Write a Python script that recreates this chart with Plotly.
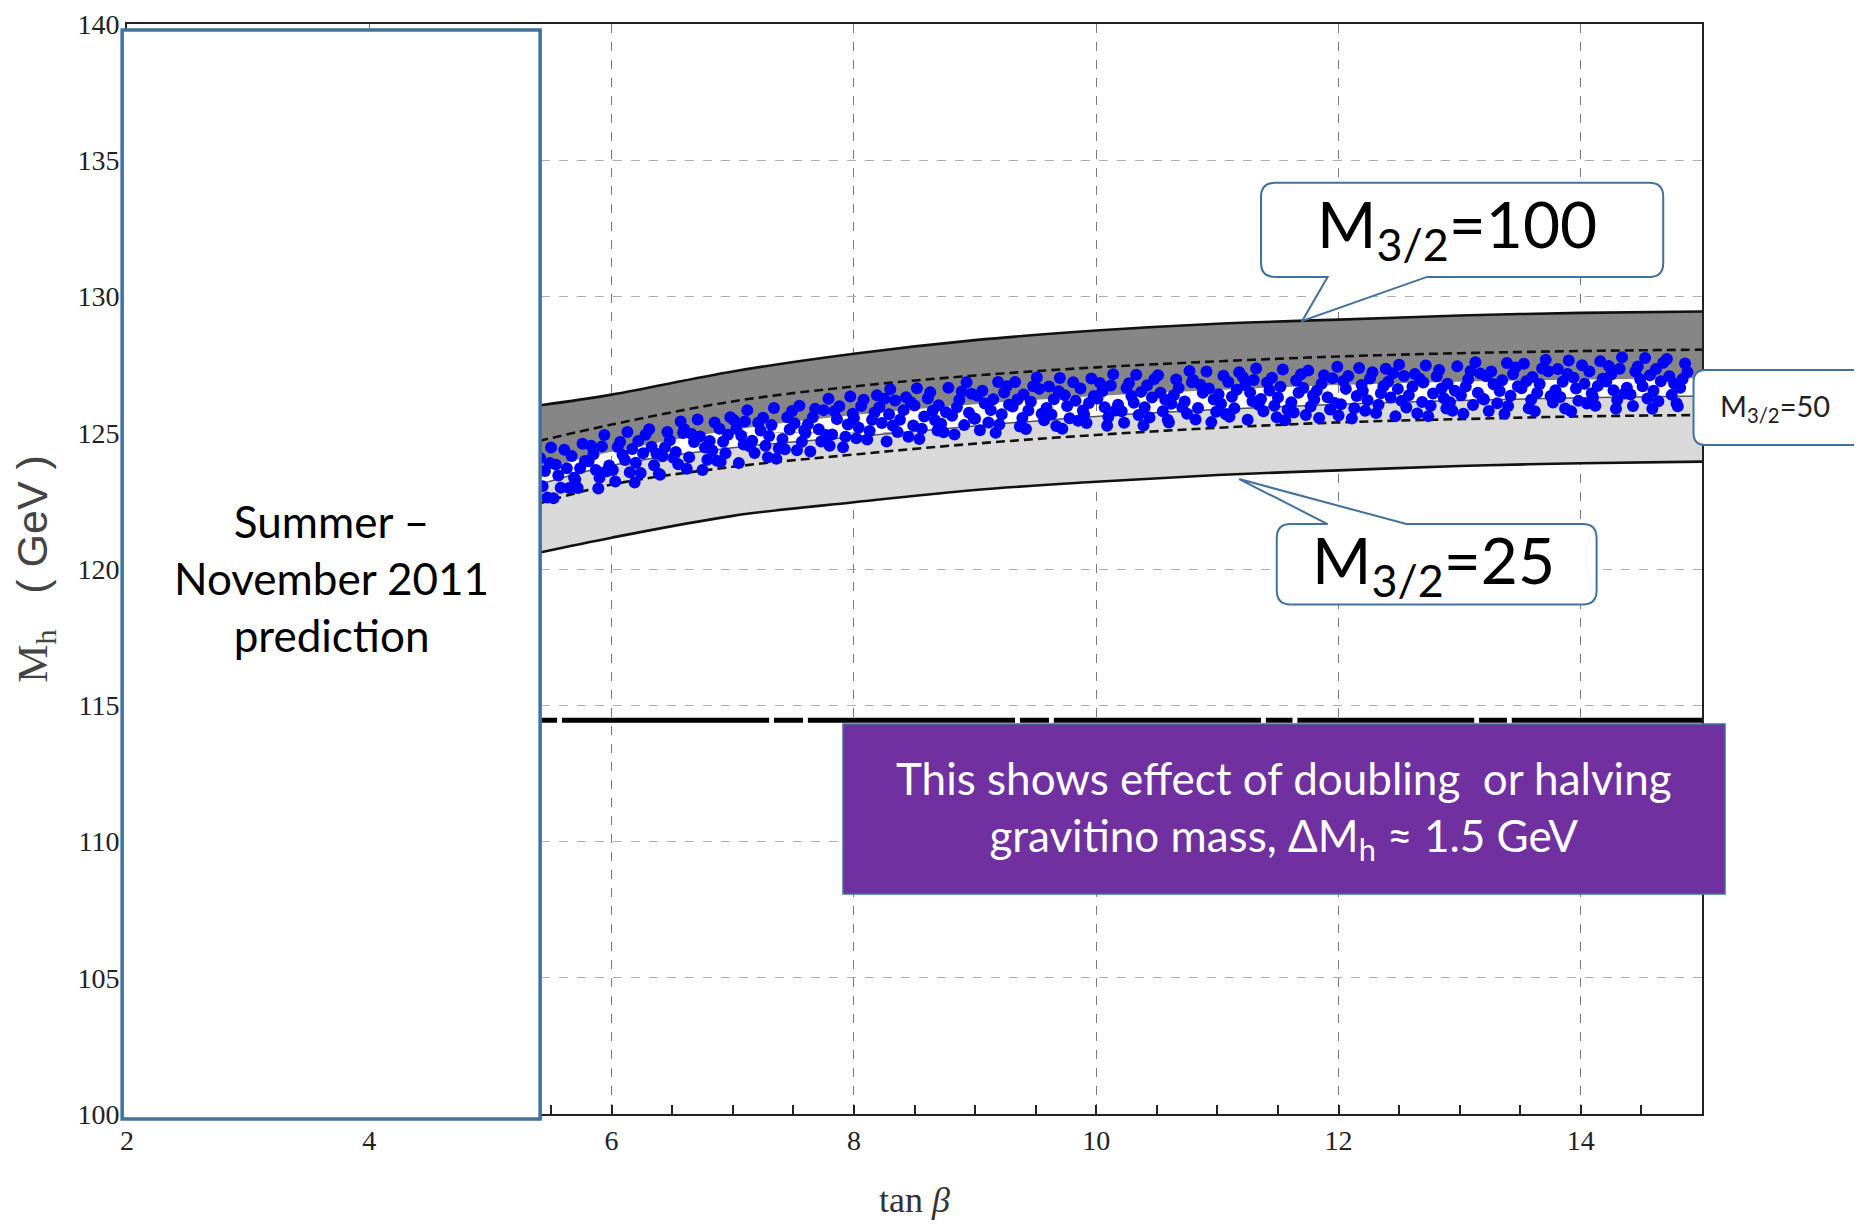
import plotly.graph_objects as go

# ---------------- data ----------------
x_ticks = [2, 4, 6, 8, 10, 12, 14]
y_ticks = [100, 105, 110, 115, 120, 125, 130, 135, 140]

band_x      = [5.4, 6, 7, 8, 9, 10, 11, 12, 13, 14, 15]
m100_upper  = [126.0, 126.4, 127.25, 127.9, 128.4, 128.75, 129.0, 129.15, 129.3, 129.4, 129.45]
dash_upper  = [124.7, 125.3, 126.15, 126.7, 127.1, 127.4, 127.62, 127.8, 127.92, 128.0, 128.05]
white_upper = [123.65, 124.3, 125.1, 125.65, 126.05, 126.35, 126.57, 126.75, 126.87, 126.95, 127.0]
white_lower = [123.1, 123.8, 124.45, 124.85, 125.25, 125.6, 125.85, 126.05, 126.18, 126.28, 126.35]
dash_lower  = [122.4, 123.1, 123.75, 124.2, 124.6, 124.92, 125.18, 125.38, 125.5, 125.6, 125.65]
m25_lower   = [120.6, 121.15, 121.95, 122.45, 122.9, 123.2, 123.45, 123.62, 123.78, 123.88, 123.94]

lep_x = [5.42, 5.55, None, 5.59, 7.30, None, 7.34, 7.58, None, 7.62, 9.33, None,
         9.37, 9.61, None, 9.65, 11.36, None, 11.40, 11.62, None, 11.66, 13.12, None,
         13.16, 13.39, None, 13.43, 15.0]
lep_y = [114.45, 114.45, None, 114.45, 114.45, None, 114.45, 114.45, None, 114.45, 114.45, None,
         114.45, 114.45, None, 114.45, 114.45, None, 114.45, 114.45, None, 114.45, 114.45, None,
         114.45, 114.45, None, 114.45, 114.45]

blue_x = [
    5.41, 5.43, 5.45, 5.47, 5.49, 5.56, 5.50, 5.58, 5.54, 5.52,
    5.63, 5.69, 5.61, 5.65, 5.67, 5.78, 5.72, 5.76, 5.70, 5.74,
    5.85, 5.87, 5.83, 5.89, 5.81, 5.90, 5.94, 5.98, 5.92, 5.96,
    6.07, 6.01, 6.09, 6.03, 6.05, 6.11, 6.13, 6.15, 6.17, 6.19,
    6.26, 6.20, 6.28, 6.24, 6.22, 6.33, 6.39, 6.31, 6.35, 6.37,
    6.48, 6.42, 6.46, 6.40, 6.44, 6.55, 6.57, 6.53, 6.59, 6.51,
    6.60, 6.64, 6.68, 6.62, 6.66, 6.77, 6.71, 6.79, 6.73, 6.75,
    6.81, 6.83, 6.85, 6.87, 6.89, 6.96, 6.90, 6.98, 6.94, 6.92,
    7.03, 7.09, 7.01, 7.05, 7.07, 7.18, 7.12, 7.16, 7.10, 7.14,
    7.25, 7.27, 7.23, 7.29, 7.21, 7.30, 7.34, 7.38, 7.32, 7.36,
    7.47, 7.41, 7.49, 7.43, 7.45, 7.51, 7.53, 7.55, 7.57, 7.59,
    7.66, 7.60, 7.68, 7.64, 7.62, 7.73, 7.79, 7.71, 7.75, 7.77,
    7.88, 7.82, 7.86, 7.80, 7.84, 7.95, 7.97, 7.93, 7.99, 7.91,
    8.00, 8.04, 8.08, 8.02, 8.06, 8.17, 8.11, 8.19, 8.13, 8.15,
    8.21, 8.23, 8.25, 8.27, 8.29, 8.36, 8.30, 8.38, 8.34, 8.32,
    8.43, 8.49, 8.41, 8.45, 8.47, 8.58, 8.52, 8.56, 8.50, 8.54,
    8.65, 8.67, 8.63, 8.69, 8.61, 8.70, 8.74, 8.78, 8.72, 8.76,
    8.87, 8.81, 8.89, 8.83, 8.85, 8.91, 8.93, 8.95, 8.97, 8.99,
    9.06, 9.00, 9.08, 9.04, 9.02, 9.13, 9.19, 9.11, 9.15, 9.17,
    9.28, 9.22, 9.26, 9.20, 9.24, 9.35, 9.37, 9.33, 9.39, 9.31,
    9.40, 9.44, 9.48, 9.42, 9.46, 9.57, 9.51, 9.59, 9.53, 9.55,
    9.61, 9.63, 9.65, 9.67, 9.69, 9.76, 9.70, 9.78, 9.74, 9.72,
    9.83, 9.89, 9.81, 9.85, 9.87, 9.98, 9.92, 9.96, 9.90, 9.94,
    10.05, 10.07, 10.03, 10.09, 10.01, 10.10, 10.14, 10.18, 10.12, 10.16,
    10.27, 10.21, 10.29, 10.23, 10.25, 10.31, 10.33, 10.35, 10.37, 10.39,
    10.46, 10.40, 10.48, 10.44, 10.42, 10.53, 10.59, 10.51, 10.55, 10.57,
    10.68, 10.62, 10.66, 10.60, 10.64, 10.75, 10.77, 10.73, 10.79, 10.71,
    10.80, 10.84, 10.88, 10.82, 10.86, 10.97, 10.91, 10.99, 10.93, 10.95,
    11.01, 11.03, 11.05, 11.07, 11.09, 11.16, 11.10, 11.18, 11.14, 11.12,
    11.23, 11.29, 11.21, 11.25, 11.27, 11.38, 11.32, 11.36, 11.30, 11.34,
    11.45, 11.47, 11.43, 11.49, 11.41, 11.50, 11.54, 11.58, 11.52, 11.56,
    11.67, 11.61, 11.69, 11.63, 11.65, 11.71, 11.73, 11.75, 11.77, 11.79,
    11.86, 11.80, 11.88, 11.84, 11.82, 11.93, 11.99, 11.91, 11.95, 11.97,
    12.08, 12.02, 12.06, 12.00, 12.04, 12.15, 12.17, 12.13, 12.19, 12.11,
    12.20, 12.24, 12.28, 12.22, 12.26, 12.37, 12.31, 12.39, 12.33, 12.35,
    12.41, 12.43, 12.45, 12.47, 12.49, 12.56, 12.50, 12.58, 12.54, 12.52,
    12.63, 12.69, 12.61, 12.65, 12.67, 12.78, 12.72, 12.76, 12.70, 12.74,
    12.85, 12.87, 12.83, 12.89, 12.81, 12.90, 12.94, 12.98, 12.92, 12.96,
    13.07, 13.01, 13.09, 13.03, 13.05, 13.11, 13.13, 13.15, 13.17, 13.19,
    13.26, 13.20, 13.28, 13.24, 13.22, 13.33, 13.39, 13.31, 13.35, 13.37,
    13.48, 13.42, 13.46, 13.40, 13.44, 13.55, 13.57, 13.53, 13.59, 13.51,
    13.60, 13.64, 13.68, 13.62, 13.66, 13.77, 13.71, 13.79, 13.73, 13.75,
    13.81, 13.83, 13.85, 13.87, 13.89, 13.96, 13.90, 13.98, 13.94, 13.92,
    14.03, 14.09, 14.01, 14.05, 14.07, 14.18, 14.12, 14.16, 14.10, 14.14,
    14.25, 14.27, 14.23, 14.29, 14.21, 14.30, 14.34, 14.38, 14.32, 14.36,
    14.47, 14.41, 14.49, 14.43, 14.45, 14.51, 14.53, 14.55, 14.57, 14.59,
    14.66, 14.60, 14.68, 14.64, 14.62, 14.73, 14.79, 14.71, 14.75, 14.77,
    14.88, 14.82, 14.86, 14.80, 14.84,
]
blue_y = [
    124.07, 123.04, 123.60, 122.62, 123.89, 123.43, 124.46, 122.98, 123.83, 122.60,
    123.70, 123.35, 124.38, 122.97, 124.15, 123.96, 122.97, 124.60, 123.28, 123.70,
    124.21, 123.63, 124.52, 122.95, 123.95, 123.35, 124.92, 123.80, 124.50, 123.59,
    124.66, 123.63, 124.19, 123.21, 124.48, 124.00, 125.03, 123.55, 124.40, 123.17,
    124.25, 123.90, 124.93, 123.52, 124.70, 124.49, 123.50, 125.13, 123.81, 124.23,
    124.72, 124.14, 125.03, 123.46, 124.46, 123.84, 125.41, 124.29, 124.99, 124.08,
    125.13, 124.10, 124.66, 123.68, 124.95, 124.46, 125.49, 124.01, 124.86, 123.63,
    124.70, 124.35, 125.38, 123.97, 125.15, 124.93, 123.94, 125.57, 124.25, 124.67,
    125.15, 124.57, 125.46, 123.89, 124.89, 124.26, 125.83, 124.71, 125.41, 124.50,
    125.55, 124.52, 125.08, 124.10, 125.37, 124.88, 125.91, 124.43, 125.28, 124.05,
    125.12, 124.77, 125.80, 124.39, 125.57, 125.35, 124.36, 125.99, 124.67, 125.09,
    125.57, 124.99, 125.88, 124.31, 125.31, 124.68, 126.25, 125.13, 125.83, 124.92,
    125.97, 124.94, 125.50, 124.52, 125.79, 125.30, 126.33, 124.85, 125.70, 124.47,
    125.53, 125.18, 126.21, 124.80, 125.98, 125.74, 124.75, 126.38, 125.06, 125.48,
    125.94, 125.36, 126.25, 124.68, 125.68, 125.03, 126.60, 125.48, 126.18, 125.27,
    126.30, 125.27, 125.83, 124.85, 126.12, 125.60, 126.63, 125.15, 126.00, 124.77,
    125.81, 125.46, 126.49, 125.08, 126.26, 126.01, 125.02, 126.65, 125.33, 125.75,
    126.20, 125.62, 126.51, 124.94, 125.94, 125.28, 126.85, 125.73, 126.43, 125.52,
    126.54, 125.51, 126.07, 125.09, 126.36, 125.83, 126.86, 125.38, 126.23, 125.00,
    126.03, 125.68, 126.71, 125.30, 126.48, 126.22, 125.23, 126.86, 125.54, 125.96,
    126.40, 125.82, 126.71, 125.14, 126.14, 125.46, 127.03, 125.91, 126.61, 125.70,
    126.70, 125.67, 126.23, 125.25, 126.52, 125.98, 127.01, 125.53, 126.38, 125.15,
    126.17, 125.82, 126.85, 125.44, 126.62, 126.35, 125.36, 126.99, 125.67, 126.09,
    126.52, 125.94, 126.83, 125.26, 126.26, 125.58, 127.15, 126.03, 126.73, 125.82,
    126.82, 125.79, 126.35, 125.37, 126.64, 126.10, 127.13, 125.65, 126.50, 125.27,
    126.29, 125.94, 126.97, 125.56, 126.74, 126.47, 125.48, 127.11, 125.79, 126.21,
    126.64, 126.06, 126.95, 125.38, 126.38, 125.70, 127.27, 126.15, 126.85, 125.94,
    126.94, 125.91, 126.47, 125.49, 126.76, 126.22, 127.25, 125.77, 126.62, 125.39,
    126.41, 126.06, 127.09, 125.68, 126.86, 126.58, 125.59, 127.22, 125.90, 126.32,
    126.74, 126.16, 127.05, 125.48, 126.48, 125.79, 127.36, 126.24, 126.94, 126.03,
    127.02, 125.99, 126.55, 125.57, 126.84, 126.29, 127.32, 125.84, 126.69, 125.46,
    126.47, 126.12, 127.15, 125.74, 126.92, 126.64, 125.65, 127.28, 125.96, 126.38,
    126.80, 126.22, 127.11, 125.54, 126.54, 125.85, 127.42, 126.30, 127.00, 126.09,
    127.08, 126.05, 126.61, 125.63, 126.90, 126.35, 127.38, 125.90, 126.75, 125.52,
    126.54, 126.19, 127.22, 125.81, 126.99, 126.71, 125.72, 127.35, 126.03, 126.45,
    126.87, 126.29, 127.18, 125.61, 126.61, 125.93, 127.50, 126.38, 127.08, 126.17,
    127.16, 126.13, 126.69, 125.71, 126.98, 126.44, 127.47, 125.99, 126.84, 125.61,
    126.62, 126.27, 127.30, 125.89, 127.07, 126.80, 125.81, 127.44, 126.12, 126.54,
    126.96, 126.38, 127.27, 125.70, 126.70, 126.02, 127.59, 126.47, 127.17, 126.26,
    127.25, 126.22, 126.78, 125.80, 127.07, 126.53, 127.56, 126.08, 126.93, 125.70,
    126.71, 126.36, 127.39, 125.98, 127.16, 126.89, 125.90, 127.53, 126.21, 126.63,
    127.05, 126.47, 127.36, 125.79, 126.79, 126.11, 127.68, 126.56, 127.26, 126.35,
    127.34, 126.31, 126.87, 125.89, 127.16, 126.62, 127.65, 126.17, 127.02, 125.79,
    126.80, 126.45, 127.48, 126.07, 127.25, 126.98, 125.99, 127.62, 126.30, 126.72,
    127.14, 126.56, 127.45, 125.88, 126.88, 126.20, 127.77, 126.65, 127.35, 126.44,
    127.43, 126.40, 126.96, 125.98, 127.25, 126.71, 127.74, 126.26, 127.11, 125.88,
    126.89, 126.54, 127.57, 126.16, 127.34, 127.07, 126.08, 127.71, 126.39, 126.81,
    127.23, 126.65, 127.54, 125.97, 126.97,
]

# ---------------- geometry ----------------
# (the html body adds an 8px margin, so the figure is offset by that much)
W, H = 1854, 1221
ML, MR, MT, MB = 119, 160, 16, 115
XR = [2, 15]
YR = [100, 140]
PW = W - ML - MR
PH = H - MT - MB


def px(x):
    return (x - XR[0]) / (XR[1] - XR[0])


def py(y):
    return (y - YR[0]) / (YR[1] - YR[0])


def bubble(x0, x1, y0, y1, r=13, tail=None):
    """rounded box in data units -> paper path. tail=(side, a, b, tipx, tipy)"""
    X0, X1, Y0, Y1 = px(x0), px(x1), py(y0), py(y1)
    rx, ry = r / PW, r / PH
    p = f"M {X0+rx},{Y1} "
    if tail and tail[0] == "top":
        _, a, b, tx, ty = tail
        p += f"L {px(a)},{Y1} L {px(tx)},{py(ty)} L {px(b)},{Y1} "
    p += f"L {X1-rx},{Y1} Q {X1},{Y1} {X1},{Y1-ry} L {X1},{Y0+ry} Q {X1},{Y0} {X1-rx},{Y0} "
    if tail and tail[0] == "bottom":
        _, a, b, tx, ty = tail
        p += f"L {px(b)},{Y0} L {px(tx)},{py(ty)} L {px(a)},{Y0} "
    p += f"L {X0+rx},{Y0} Q {X0},{Y0} {X0},{Y0+ry} L {X0},{Y1-ry} Q {X0},{Y1} {X0+rx},{Y1} Z"
    return p


fig = go.Figure()
nohover = dict(showlegend=False, hoverinfo="skip")

# band fills
fig.add_trace(go.Scatter(x=band_x, y=white_upper, mode="lines",
                         line=dict(width=0, shape="spline"), **nohover))
fig.add_trace(go.Scatter(x=band_x, y=m100_upper, mode="lines", fill="tonexty",
                         fillcolor="#868686", line=dict(width=0, shape="spline"), **nohover))
fig.add_trace(go.Scatter(x=band_x, y=m25_lower, mode="lines",
                         line=dict(width=0, shape="spline"), **nohover))
fig.add_trace(go.Scatter(x=band_x, y=white_lower, mode="lines", fill="tonexty",
                         fillcolor="#d9d9d9", line=dict(width=0, shape="spline"), **nohover))

# band lines
for ys in (m100_upper, m25_lower):
    fig.add_trace(go.Scatter(x=band_x, y=ys, mode="lines",
                             line=dict(color="#111", width=2.6, shape="spline"), **nohover))
for ys in (dash_upper, dash_lower):
    fig.add_trace(go.Scatter(x=band_x, y=ys, mode="lines",
                             line=dict(color="#111", width=2.6, shape="spline", dash="9px,5px"),
                             **nohover))
fig.add_trace(go.Scatter(x=band_x, y=white_lower, mode="lines",
                         line=dict(color="#555", width=1.5, shape="spline"), **nohover))

# LEP line
fig.add_trace(go.Scatter(x=lep_x, y=lep_y, mode="lines",
                         line=dict(color="#000", width=5), connectgaps=False, **nohover))

# scan points
fig.add_trace(go.Scatter(x=blue_x, y=blue_y, mode="markers",
                         marker=dict(color="#0000ff", size=12, line=dict(width=0)), **nohover))

steel = "#41719C"
shapes = [
    # Summer box
    dict(type="rect", xref="paper", yref="paper", x0=px(1.96), x1=px(5.41),
         y0=py(99.82), y1=py(139.78), fillcolor="white", line=dict(color=steel, width=3.5),
         layer="above"),
    # M=100 callout
    dict(type="path", xref="paper", yref="paper", layer="above", fillcolor="white",
         line=dict(color=steel, width=2),
         path=bubble(11.36, 14.68, 130.72, 134.17, 14, ("bottom", 11.91, 12.73, 11.70, 129.1))),
    # M=25 callout
    dict(type="path", xref="paper", yref="paper", layer="above", fillcolor="white",
         line=dict(color=steel, width=2),
         path=bubble(11.49, 14.13, 118.7, 121.65, 14, ("top", 11.91, 12.56, 11.18, 123.3))),
    # M=50 box
    dict(type="path", xref="paper", yref="paper", layer="above", fillcolor="white",
         line=dict(color=steel, width=2),
         path=bubble(14.93, 16.45, 124.55, 127.3, 12)),
    # purple box
    dict(type="rect", xref="paper", yref="paper", x0=px(7.91), x1=px(15.19),
         y0=py(108.07), y1=py(114.31), fillcolor="#7030A0",
         line=dict(color=steel, width=1.5), layer="above"),
]

sans = "Lato, Carlito, 'Open Sans', sans-serif"
ann_common = dict(xref="paper", yref="paper", showarrow=False, xanchor="center",
                  yanchor="middle", align="center")
annotations = [
    dict(x=px(3.685), y=py(119.67), text="Summer –<br>November 2011<br>prediction",
         font=dict(family=sans, size=44, color="#000"), **ann_common),
    dict(x=px(12.98), y=py(132.5), text="M<sub>3/2</sub>=100",
         font=dict(family=sans, size=64, color="#000"), **ann_common),
    dict(x=px(12.78), y=py(120.17), text="M<sub>3/2</sub>=25",
         font=dict(family=sans, size=64, color="#000"), **ann_common),
    dict(x=px(15.6), y=py(125.94), text="M<sub>3/2</sub>=50",
         font=dict(family=sans, size=29, color="#222"), **ann_common),
    dict(x=px(11.55), y=py(111.16),
         text="This shows effect of doubling  or halving<br>gravitino mass, ΔM<sub>h</sub> ≈ 1.5 GeV",
         font=dict(family=sans, size=44, color="white"), **ann_common),
]

serif = "'Liberation Serif', 'DejaVu Serif', serif"
axis_common = dict(showline=True, linecolor="#222", linewidth=2, mirror=True,
                   showgrid=True, griddash="dash", zeroline=False, automargin=False,
                   tickfont=dict(family=serif, size=28, color="#222"))

fig.update_layout(
    width=W, height=H,
    margin=dict(l=ML, r=MR, t=MT, b=MB, pad=0),
    paper_bgcolor="white", plot_bgcolor="white",
    showlegend=False,
    shapes=shapes, annotations=annotations,
    xaxis=dict(range=XR, tickmode="array", tickvals=x_ticks, ticks="inside", ticklen=9,
               tickwidth=1.5, tickcolor="#222", gridcolor="#7a7a7a", gridwidth=1.3,
               minor=dict(tickmode="array", tickvals=[v / 2 for v in range(4, 31)],
                          ticks="inside", ticklen=9, tickwidth=1.5, tickcolor="#222",
                          showgrid=False),
               title=dict(text="tan <i>β</i>", standoff=32,
                          font=dict(family=serif, size=36, color="#333")),
               **axis_common),
    yaxis=dict(range=YR, tickmode="array", tickvals=y_ticks, ticks="",
               gridcolor="#b0b0b0", gridwidth=1.3,
               title=dict(text="<span style='font-family:Liberation Serif'>M<sub>h</sub></span>"
                               "\u00a0\u00a0\u00a0(\u00a0GeV\u00a0)", standoff=24,
                          font=dict(family="'Liberation Sans', sans-serif", size=43, color="#444")),
               **axis_common),
)

fig.write_html("out.html")
